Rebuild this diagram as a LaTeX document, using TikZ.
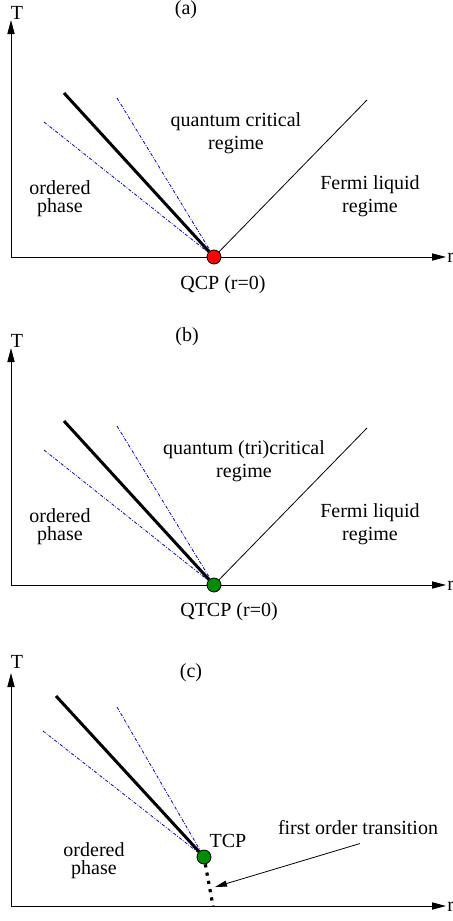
\documentclass[tikz,border=0pt]{standalone}
\usepackage{fontspec}
\setmainfont{Liberation Serif}
\usepackage{xcolor}
\usepackage{tikz}
\usetikzlibrary{positioning,arrows.meta,calc}
\definecolor{pBlue}{RGB}{0,0,205}
\definecolor{pRed}{RGB}{255,0,0}
\definecolor{pGreen}{RGB}{0,140,0}

\begin{document}
\begin{tikzpicture}[x=0.5pt,y=-0.5pt,
  axis/.style={line width=0.5pt,-{Triangle[length=7pt,width=3.6pt]}},
  phaseline/.style={line width=1.5pt},
  fermiline/.style={line width=0.4pt},
  crossover/.style={pBlue,line width=0.4pt,dash pattern=on 1.6pt off 0.8pt on 0.4pt off 0.8pt},
  firstorder/.style={line width=1.6pt,dash pattern=on 1.6pt off 2.6pt},
  pointer/.style={line width=0.4pt,-{Triangle[length=6pt,width=3pt]}},
  critpt/.style={circle,draw=black,line width=0.4pt,minimum size=7pt,inner sep=0pt},
  lab/.style={font=\fontsize{10}{11.5}\selectfont,align=center,inner sep=0pt}]
\useasboundingbox (0,0) rectangle (452,921);

% (a)
\coordinate (oa) at (11,257);
\coordinate (Ta) at (11,20);
\coordinate (ra) at (446,257);
\draw[axis] (oa) -- (Ta);
\draw[axis] (oa) -- (ra);
\node[lab] (Tlaba) at (17,13) {T};
\node[lab,anchor=base west] (rlaba) at (447,262) {r};
\node[lab] (capa) at (186,10) {(a)};
\node[critpt,fill=pRed] (qcp) at (214,257) {};
\coordinate (tha) at (64,93);
\coordinate (cra1) at (44,122);
\coordinate (cra2) at (117,98);
\coordinate (fla) at (367,100);
\draw[crossover] (cra1) -- (qcp);
\draw[crossover] (cra2) -- (qcp);
\draw[phaseline] (tha) -- (qcp);
\draw[fermiline] (qcp) -- (fla);
\node[lab] (qcra) at (236,133) {quantum critical\\regime};
\node[lab,font=\fontsize{10}{9}\selectfont] (orda) at (60,199) {ordered\\phase};
\node[lab] (fra) at (370,196) {Fermi liquid\\regime};
\node[lab] (qcplab) at (223,285) {QCP (r=0)};

% (b)
\coordinate (ob) at (11,585);
\coordinate (Tb) at (11,348);
\coordinate (rb) at (446,585);
\draw[axis] (ob) -- (Tb);
\draw[axis] (ob) -- (rb);
\node[lab] (Tlabb) at (17,341) {T};
\node[lab,anchor=base west] (rlabb) at (447,590) {r};
\node[lab] (capb) at (187,337) {(b)};
\node[critpt,fill=pGreen] (qtcp) at (214,585) {};
\coordinate (thb) at (64,421);
\coordinate (crb1) at (44,450);
\coordinate (crb2) at (117,426);
\coordinate (flb) at (367,428);
\draw[crossover] (crb1) -- (qtcp);
\draw[crossover] (crb2) -- (qtcp);
\draw[phaseline] (thb) -- (qtcp);
\draw[fermiline] (qtcp) -- (flb);
\node[lab] (qcrb) at (244,461) {quantum (tri)critical\\regime};
\node[lab,font=\fontsize{10}{9}\selectfont] (ordb) at (60,527) {ordered\\phase};
\node[lab] (frb) at (370,524) {Fermi liquid\\regime};
\node[lab] (qtcplab) at (229,612) {QTCP (r=0)};

% (c)
\coordinate (oc) at (11,906);
\coordinate (Tc) at (11,673);
\coordinate (rc) at (446,906);
\draw[axis] (oc) -- (Tc);
\draw[axis] (oc) -- (rc);
\node[lab] (Tlabc) at (17,662) {T};
\node[lab,anchor=base west] (rlabc) at (447,911) {r};
\node[lab] (capc) at (191,673) {(c)};
\node[critpt,fill=pGreen] (tcp) at (204,857) {};
\coordinate (thc) at (56,696);
\coordinate (crc1) at (43,731);
\coordinate (crc2) at (117,707);
\coordinate (foc) at (213,906);
\draw[crossover] (crc1) -- (tcp);
\draw[crossover] (crc2) -- (tcp);
\draw[phaseline] (thc) -- (tcp);
\draw[firstorder] (tcp) -- (foc);
\node[lab] (tcplab) at (228,841) {TCP};
\node[lab,font=\fontsize{10}{9}\selectfont] (ordc) at (94,861) {ordered\\phase};
\node[lab] (fotlab) at (358,828) {first order transition};
\coordinate (fotip) at (215,887);
\draw[pointer] ($(fotlab.south)+(2,8)$) -- (fotip);
\end{tikzpicture}
\end{document}
